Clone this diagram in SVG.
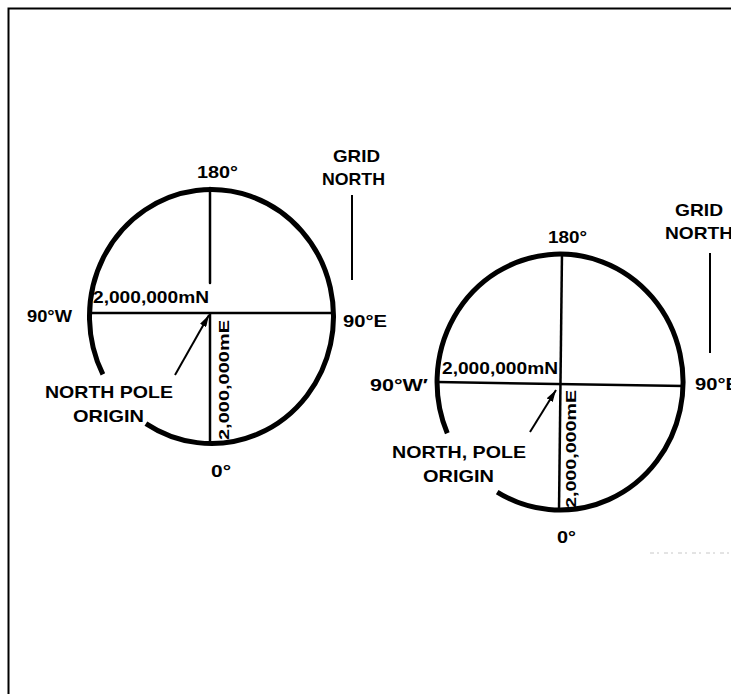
<svg xmlns="http://www.w3.org/2000/svg" width="731" height="694" viewBox="0 0 731 694">
<style>
.t{font-family:"Liberation Sans",Arial,sans-serif;font-weight:bold;font-size:17px;fill:#000}
.v{font-family:"Liberation Sans",Arial,sans-serif;font-weight:bold;font-size:15px;fill:#000}
.circ{fill:none;stroke:#000;stroke-width:5}
.ax{stroke:#000;stroke-width:2.5;fill:none}
.gn{stroke:#000;stroke-width:2;fill:none}
.arr{stroke:#000;stroke-width:2;fill:none}
</style>
<defs>
<marker id="ah" viewBox="0 0 12 7" refX="12" refY="3.5" markerWidth="12" markerHeight="7" markerUnits="userSpaceOnUse" orient="auto">
<path d="M0,0 L12,3.5 L0,7 z" fill="#000"/>
</marker>
</defs>
<rect width="731" height="694" fill="#fff"/>
<g id="frame">
<path d="M8.5,694 V8.5 H731" fill="none" stroke="#000" stroke-width="2"/>
<path d="M650,553 H731" stroke="#c8c8c8" stroke-width="1" stroke-dasharray="4 3 2 5"/>
</g>
<g id="left-diagram">
<g id="left-circle">
<path class="circ" d="M102.9,374.4 A122,127 0 1 1 145.9,423.6"/>
<line class="ax" x1="88" y1="313" x2="335" y2="313"/>
<line class="ax" x1="210" y1="188" x2="210" y2="283" stroke-linecap="round"/>
<line class="ax" x1="210" y1="313" x2="210" y2="445" stroke-width="3"/>
</g>
<g id="left-labels">
<text class="t" x="197" y="178" textLength="41" lengthAdjust="spacingAndGlyphs">180°</text>
<text class="t" x="27" y="322" textLength="45" lengthAdjust="spacingAndGlyphs">90°W</text>
<text class="t" x="343" y="327" textLength="44" lengthAdjust="spacingAndGlyphs">90°E</text>
<text class="t" x="211" y="477" textLength="20" lengthAdjust="spacingAndGlyphs">0°</text>
<text class="t" x="93" y="303" textLength="116" lengthAdjust="spacingAndGlyphs">2,000,000mN</text>
<text class="v" transform="translate(229,440) rotate(-90)" textLength="120" lengthAdjust="spacingAndGlyphs">2,000,000mE</text>
</g>
<g id="left-grid-north">
<text class="t" x="333" y="162" textLength="47" lengthAdjust="spacingAndGlyphs">GRID</text>
<text class="t" x="322" y="185" textLength="63" lengthAdjust="spacingAndGlyphs">NORTH</text>
<line class="gn" x1="352" y1="195" x2="352" y2="280"/>
</g>
<g id="left-origin-label">
<text class="t" x="45" y="398" textLength="128" lengthAdjust="spacingAndGlyphs">NORTH POLE</text>
<text class="t" x="73" y="422" textLength="71" lengthAdjust="spacingAndGlyphs">ORIGIN</text>
</g>
</g>
<g id="right-diagram">
<g id="right-circle">
<path class="circ" d="M447.3,433.2 A123,128 0 1 1 497.2,492.1"/>
<line class="ax" x1="437" y1="382" x2="684" y2="386"/>
<line class="ax" x1="562" y1="252" x2="559" y2="512" stroke-width="2.2"/>
</g>
<g id="right-labels">
<text class="t" x="548" y="243" textLength="39" lengthAdjust="spacingAndGlyphs">180°</text>
<text class="t" x="370" y="391" textLength="58" lengthAdjust="spacingAndGlyphs">90°W′</text>
<text class="t" x="695" y="390" textLength="44" lengthAdjust="spacingAndGlyphs">90°E</text>
<text class="t" x="557" y="543" textLength="19" lengthAdjust="spacingAndGlyphs">0°</text>
<text class="t" x="442" y="374" textLength="116" lengthAdjust="spacingAndGlyphs">2,000,000mN</text>
<text class="v" transform="translate(576,508) rotate(-90)" textLength="118" lengthAdjust="spacingAndGlyphs">2,000,000mE</text>
</g>
<g id="right-grid-north">
<text class="t" x="675" y="216" textLength="48" lengthAdjust="spacingAndGlyphs">GRID</text>
<text class="t" x="665" y="239" textLength="68" lengthAdjust="spacingAndGlyphs">NORTH</text>
<line class="gn" x1="710" y1="253" x2="710" y2="353"/>
</g>
<g id="right-origin-label">
<text class="t" x="392" y="458" textLength="134" lengthAdjust="spacingAndGlyphs">NORTH, POLE</text>
<text class="t" x="423" y="482" textLength="71" lengthAdjust="spacingAndGlyphs">ORIGIN</text>
</g>
</g>
<g id="connectors">
<line class="arr" x1="175" y1="375" x2="209" y2="315" marker-end="url(#ah)"/>
<line class="arr" x1="530" y1="432" x2="556" y2="390" marker-end="url(#ah)"/>
</g>
</svg>
